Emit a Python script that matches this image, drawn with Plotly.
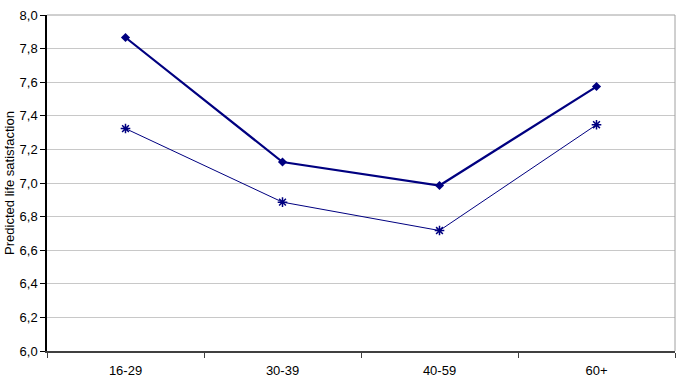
import plotly.graph_objects as go

categories = ["16-29", "30-39", "40-59", "60+"]
series_a = [7.866, 7.125, 6.985, 7.574]
series_b = [7.324, 6.886, 6.717, 7.347]
y_ticks = [6.0, 6.2, 6.4, 6.6, 6.8, 7.0, 7.2, 7.4, 7.6, 7.8, 8.0]

fig = go.Figure()
fig.add_trace(go.Scatter(
    x=categories, y=series_a, mode="lines+markers",
    line=dict(color="#000080", width=2.2),
    marker=dict(symbol="diamond", size=7, color="#000080"),
    showlegend=False))
fig.add_trace(go.Scatter(
    x=categories, y=series_b, mode="lines+markers",
    line=dict(color="#000080", width=1),
    marker=dict(symbol="asterisk-open", size=8, line=dict(color="#336699", width=1.5)),
    showlegend=False))

fig.update_layout(
    width=686, height=386,
    margin=dict(l=45, r=11, t=8, b=35),
    paper_bgcolor="white", plot_bgcolor="white",
    separators=",.",
    font=dict(family="Liberation Sans, Arial, sans-serif", size=13, color="#000000"),
    xaxis=dict(
        type="category", range=[-0.5, 3.5],
        tickson="boundaries", ticks="outside", ticklen=5, tickcolor="#404040",
        showline=True, linecolor="#404040", linewidth=2,
        mirror=False, showgrid=False,
        tickfont=dict(size=13), ticklabelstandoff=6,
    ),
    yaxis=dict(
        range=[6.0, 8.0], tickvals=y_ticks, tickformat=".1f",
        ticks="outside", ticklen=5, tickcolor="#000000",
        showline=True, linecolor="#000000", linewidth=1.5,
        showgrid=True, gridcolor="#C8C8C8", gridwidth=1,
        zeroline=False,
        title=dict(text="Predicted life satisfaction", font=dict(size=13), standoff=2),
        tickfont=dict(size=13),
    ),
)
# plot area border on top and right
fig.add_shape(type="line", xref="paper", yref="paper", x0=0, x1=1, y0=1, y1=1,
              line=dict(color="#A0A0A0", width=1))
fig.add_shape(type="line", xref="paper", yref="paper", x0=1, x1=1, y0=0, y1=1,
              line=dict(color="#A0A0A0", width=1))

fig.write_html("out.html")
